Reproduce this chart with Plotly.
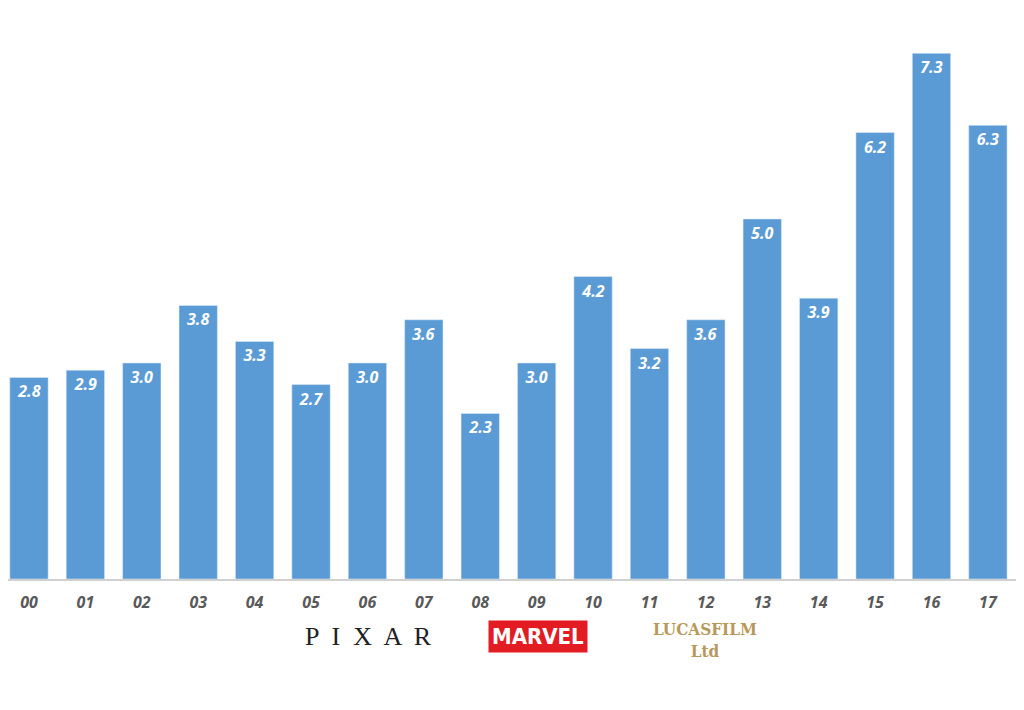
import plotly.graph_objects as go

years = ["00", "01", "02", "03", "04", "05", "06", "07", "08", "09",
         "10", "11", "12", "13", "14", "15", "16", "17"]
values = [2.8, 2.9, 3.0, 3.8, 3.3, 2.7, 3.0, 3.6, 2.3, 3.0,
          4.2, 3.2, 3.6, 5.0, 3.9, 6.2, 7.3, 6.3]

fig = go.Figure(go.Bar(
    x=years, y=values,
    marker_color="#5B9BD5",
    text=[f"{v:.1f}" for v in values],
    textposition="inside", insidetextanchor="end",
    textangle=0,
    textfont=dict(family="Open Sans", size=16, color="white"),
    texttemplate="<b><i>%{text}</i></b>",
))

fig.update_layout(
    width=1016, height=702,
    margin=dict(l=0, r=0, t=0, b=131),
    plot_bgcolor="white", paper_bgcolor="white",
    bargap=0.32, showlegend=False,
    xaxis=dict(range=[-0.372, 17.64], showline=True, linecolor="#d0d0d0", linewidth=1.5,
               tickfont=dict(family="Open Sans", size=16, color="#595959"),
               ticklabelstandoff=8,
               tickprefix="<b><i>", ticksuffix="</i></b>", ticks=""),
    yaxis=dict(range=[0, 7.93], visible=False),
)

# studio logos as text
fig.add_annotation(x=0.355, y=-0.072, xref="paper", yref="paper", yanchor="top",
                   xanchor="center", text="P  I  X  A  R", showarrow=False,
                   font=dict(family="Liberation Serif", size=26, color="#222"))
fig.add_annotation(x=0.522, y=-0.072, xref="paper", yref="paper", yanchor="top",
                   xanchor="center", text="<b>MARVEL</b>", showarrow=False,
                   bgcolor="#e31b23", borderpad=3,
                   font=dict(family="DejaVu Sans Condensed", size=22, color="white"))
fig.add_annotation(x=0.686, y=-0.067, xref="paper", yref="paper", yanchor="top",
                   xanchor="center", text="<b>LUCASFILM</b><br><b>Ltd</b>",
                   showarrow=False,
                   font=dict(family="DejaVu Serif Condensed", size=17, color="#b8995a"))

fig.write_html("out.html")
